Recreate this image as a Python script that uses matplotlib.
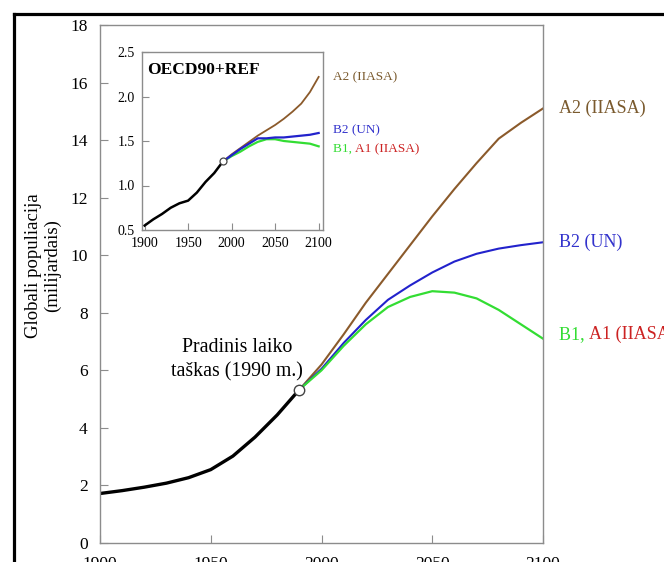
import matplotlib
matplotlib.use("Agg")
import matplotlib.pyplot as plt
from matplotlib.lines import Line2D

plt.rcParams['font.family'] = ['Liberation Serif', 'DejaVu Serif']

# --- duomenys: pasaulio populiacija (mlrd.) ---
metai_ist = [1900, 1910, 1920, 1930, 1940, 1950, 1960, 1970, 1980, 1990]
pop_ist = [1.72, 1.82, 1.94, 2.08, 2.27, 2.55, 3.02, 3.68, 4.45, 5.33]

metai_sc = [1990, 2000, 2010, 2020, 2030, 2040, 2050, 2060, 2070, 2080, 2090, 2100]
pop_a2 = [5.33, 6.2, 7.25, 8.35, 9.35, 10.35, 11.35, 12.3, 13.2, 14.05, 14.6, 15.1]
pop_b2 = [5.33, 6.05, 6.95, 7.75, 8.45, 8.95, 9.4, 9.78, 10.05, 10.23, 10.35, 10.45]
pop_b1 = [5.33, 6.0, 6.85, 7.6, 8.2, 8.55, 8.75, 8.7, 8.5, 8.1, 7.6, 7.1]

# OECD90+REF regionas
oecd_ist = [0.55, 0.62, 0.68, 0.75, 0.80, 0.83, 0.92, 1.04, 1.14, 1.27]
oecd_a2 = [1.27, 1.35, 1.42, 1.49, 1.56, 1.62, 1.68, 1.75, 1.83, 1.92, 2.05, 2.22]
oecd_b2 = [1.27, 1.34, 1.41, 1.47, 1.53, 1.53, 1.54, 1.54, 1.55, 1.56, 1.57, 1.59]
oecd_b1 = [1.27, 1.33, 1.38, 1.44, 1.49, 1.52, 1.52, 1.50, 1.49, 1.48, 1.47, 1.44]

ruda = '#8B5A2B'
melyna = '#2222CC'
zalia = '#33DD33'
raudona = '#CC2222'
pilka = '#8C8C8C'

W, H = 664, 562
fig = plt.figure(figsize=(W / 100, H / 100), dpi=100)

# --- pagrindinis grafikas ---
ax = fig.add_axes([100 / W, (H - 543) / H, 443 / W, 518 / H])
ax.plot(metai_ist, pop_ist, color='black', lw=2.4, solid_capstyle='round')
ax.plot(metai_sc, pop_a2, color=ruda, lw=1.5)
ax.plot(metai_sc, pop_b2, color=melyna, lw=1.5)
ax.plot(metai_sc, pop_b1, color=zalia, lw=1.6)
ax.plot([1990], [5.33], 'o', ms=7.5, mfc='white', mec='#444444', mew=1.0)

ax.set_xlim(1900, 2100)
ax.set_ylim(0, 18)
ax.set_xticks([1900, 1950, 2000, 2050, 2100])
ax.set_yticks(range(0, 19, 2))
ax.tick_params(direction='in', length=6, color=pilka, labelsize=12.5, pad=9)
for s in ax.spines.values():
    s.set_color(pilka)
    s.set_linewidth(1.0)

# ašies pavadinimas
fig.text(43 / W, 1 - 266 / H, 'Globali populiacija\n(milijardais)', rotation=90,
         ha='center', va='center', multialignment='center', fontsize=13.5,
         linespacing=1.15)

ax.text(1962, 6.37, 'Pradinis laiko\ntaškas (1990 m.)', ha='center', va='center',
        fontsize=14.3, linespacing=1.35)

ax.text(2107, 15.1, 'A2 (IIASA)', color='#7A5A2E', fontsize=13, va='center',
        clip_on=False)
ax.text(2107, 10.45, 'B2 (UN)', color='#3333CC', fontsize=13, va='center',
        clip_on=False)
t = ax.text(2107, 7.25, 'B1, ', color=zalia, fontsize=13, va='center',
            clip_on=False)
ax.annotate('A1 (IIASA)', xycoords=t, xy=(1, 0), va='bottom', color=raudona,
            fontsize=13, annotation_clip=False)

# --- įdėtas grafikas ---
ins = fig.add_axes([142 / W, (H - 230) / H, 181 / W, 178 / H])
ins.plot(metai_ist, oecd_ist, color='black', lw=1.8)
ins.plot(metai_sc, oecd_a2, color=ruda, lw=1.3)
ins.plot(metai_sc, oecd_b1, color=zalia, lw=1.6)
ins.plot(metai_sc, oecd_b2, color=melyna, lw=1.6)
ins.plot([1990], [1.27], 'o', ms=5, mfc='white', mec='#444444', mew=0.9)
ins.set_xlim(1897, 2105)
ins.set_ylim(0.5, 2.5)
ins.set_xticks([1900, 1950, 2000, 2050, 2100])
ins.set_yticks([0.5, 1.0, 1.5, 2.0, 2.5])
ins.set_yticklabels(['0.5', '1.0', '1.5', '2.0', '2.5'])
ins.tick_params(direction='in', length=5, color=pilka, labelsize=10, pad=5)
for s in ins.spines.values():
    s.set_color(pilka)
    s.set_linewidth(1.0)
ins.text(0.03, 0.90, 'OECD90+REF', transform=ins.transAxes, fontsize=12.5,
         fontweight='bold', va='center')

ins.text(2116, 2.22, 'A2 (IIASA)', color='#7A5A2E', fontsize=9.5, va='center',
         clip_on=False)
ins.text(2116, 1.62, 'B2 (UN)', color='#3333CC', fontsize=9.5, va='center',
         clip_on=False)
t2 = ins.text(2116, 1.41, 'B1, ', color=zalia, fontsize=9.5, va='center',
              clip_on=False)
ins.annotate('A1 (IIASA)', xycoords=t2, xy=(1, 0), va='bottom', color=raudona,
             fontsize=9.5, annotation_clip=False)

# rėmelis (viršus ir kairė)
fig.add_artist(Line2D([13.7 / W, 13.7 / W], [0, 1 - 13.7 / H], color='black',
                      lw=2.3, transform=fig.transFigure))
fig.add_artist(Line2D([13.7 / W, 1], [1 - 13.7 / H, 1 - 13.7 / H], color='black',
                      lw=2.3, transform=fig.transFigure))

fig.savefig('out.png', dpi=100)
